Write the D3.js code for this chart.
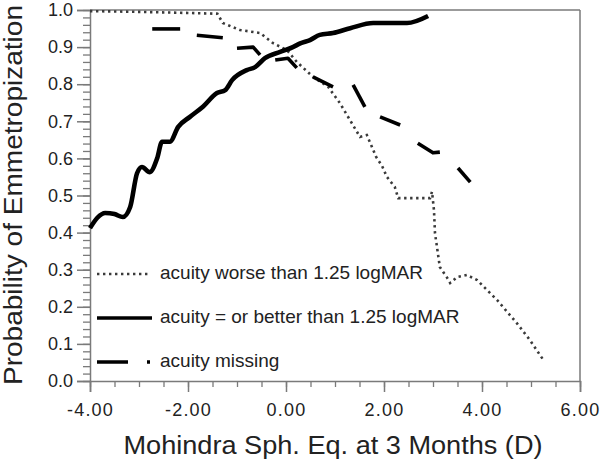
<!DOCTYPE html>
<html><head><meta charset="utf-8">
<script src="https://cdn.jsdelivr.net/npm/d3@7"></script>
<style>
html,body{margin:0;padding:0;background:#fff;}
svg{display:block;font-family:"Liberation Sans",Arial,sans-serif;}
</style></head>
<body>
<svg id="chart" width="600" height="463"></svg>
<script>
// ---- data ----
const xTicks = [-4, -2, 0, 2, 4, 6];
const yTicks = [0, 0.1, 0.2, 0.3, 0.4, 0.5, 0.6, 0.7, 0.8, 0.9, 1.0];
const seriesNames = ["acuity worse than 1.25 logMAR", "acuity = or better than 1.25 logMAR", "acuity missing"];

const worseX = [-4.0,-3.0,-2.0,-1.4,-1.29,-0.94,-0.53,-0.27,0.02,0.22,0.55,0.86,1.1,1.51,1.65,1.84,1.96,2.06,2.22,2.29,2.94,2.98,3.02,3.04,3.14,3.29,3.35,3.49,3.69,3.9,4.31,4.71,4.98,5.24];
const worseY = [0.997,0.995,0.992,0.99,0.965,0.946,0.938,0.911,0.892,0.86,0.82,0.793,0.749,0.658,0.663,0.604,0.58,0.55,0.523,0.493,0.493,0.51,0.46,0.399,0.307,0.278,0.264,0.28,0.286,0.272,0.218,0.156,0.11,0.059];

const betterX = [-4.0,-3.85,-3.69,-3.5,-3.33,-3.18,-3.04,-2.94,-2.78,-2.63,-2.53,-2.37,-2.2,-1.96,-1.69,-1.41,-1.24,-1.1,-0.8,-0.63,-0.43,-0.12,0.14,0.29,0.49,0.69,0.96,1.31,1.78,2.47,2.9];
const betterY = [0.412,0.44,0.453,0.45,0.442,0.469,0.56,0.577,0.563,0.60,0.645,0.645,0.685,0.712,0.74,0.776,0.784,0.811,0.838,0.846,0.87,0.887,0.9,0.91,0.919,0.933,0.938,0.951,0.965,0.965,0.984];

// the "missing" curve is drawn as a long-dash line; each dash is one piece
const missingX = [-2.73,-2.16,-1.82,-1.29,-1.0,-0.67,-0.53,-0.22,0.04,0.22,0.55,0.96,1.37,1.61,1.92,2.33,2.69,3.0,3.14,3.51,3.76];
const missingY = [0.949,0.949,0.932,0.925,0.897,0.9,0.879,0.865,0.87,0.844,0.82,0.793,0.798,0.739,0.712,0.69,0.641,0.615,0.617,0.574,0.536];
const missingDash = [0,0,1,1,2,2,2,3,3,3,4,4,5,5,6,6,7,7,7,8,8];

// ---- layout ----
const L = 90, R = 580, T = 10, B = 381;
const svg = d3.select("#chart");
const x = d3.scaleLinear().domain([-4, 6]).range([L, R]);
const y = d3.scaleLinear().domain([0, 1]).range([B, T]);
const axisColor = "#7a7a7a";
const textColor = "#222";

// frame (top & right)
svg.append("line").attr("x1", L).attr("x2", R).attr("y1", T).attr("y2", T).attr("stroke", axisColor).attr("stroke-width", 1.5);
svg.append("line").attr("x1", R).attr("x2", R).attr("y1", T).attr("y2", B).attr("stroke", axisColor).attr("stroke-width", 1.5);

// minor ticks
const yMinor = d3.range(0, 51).map(i => i * 0.02);
const xMinor = d3.range(0, 21).map(i => -4 + i * 0.5);
svg.append("g").attr("transform", `translate(${L},0)`)
  .call(d3.axisLeft(y).tickValues(yMinor).tickSize(7).tickFormat(""))
  .call(g => { g.select(".domain").remove(); g.selectAll("line").attr("stroke", axisColor).attr("stroke-width", 1.3); });
svg.append("g").attr("transform", `translate(0,${B})`)
  .call(d3.axisBottom(x).tickValues(xMinor).tickSize(6).tickFormat(""))
  .call(g => { g.select(".domain").remove(); g.selectAll("line").attr("stroke", axisColor).attr("stroke-width", 1.3); });

// major axes
const yAxis = svg.append("g").attr("transform", `translate(${L},0)`)
  .call(d3.axisLeft(y).tickValues(yTicks).tickSize(13).tickPadding(4).tickFormat(d => d.toFixed(1)));
yAxis.select(".domain").attr("stroke", axisColor).attr("stroke-width", 1.5);
yAxis.selectAll("line").attr("stroke", axisColor).attr("stroke-width", 1.5);
yAxis.selectAll("text").attr("fill", textColor).style("font-size", "18px").style("font-family", "'Liberation Sans',Arial,sans-serif");

const xAxis = svg.append("g").attr("transform", `translate(0,${B})`)
  .call(d3.axisBottom(x).tickValues(xTicks).tickSize(11).tickPadding(11).tickFormat(d => d.toFixed(2)));
xAxis.select(".domain").attr("stroke", axisColor).attr("stroke-width", 1.5);
xAxis.selectAll("line").attr("stroke", axisColor).attr("stroke-width", 1.5);
xAxis.selectAll("text").attr("fill", textColor).style("font-size", "18px").style("letter-spacing", "1.2px").style("font-family", "'Liberation Sans',Arial,sans-serif");

// axis titles
svg.append("text").attr("x", 333).attr("y", 454).attr("text-anchor", "middle")
  .attr("fill", textColor).style("font-size", "25px")
  .attr("textLength", 419).attr("lengthAdjust", "spacingAndGlyphs")
  .text("Mohindra Sph. Eq. at 3 Months (D)");
svg.append("text").attr("transform", "translate(22,195) rotate(-90)").attr("text-anchor", "middle")
  .attr("fill", textColor).style("font-size", "25px")
  .attr("textLength", 380).attr("lengthAdjust", "spacingAndGlyphs")
  .text("Probability of Emmetropization");

// lines
const toPts = (xs, ys) => xs.map((v, i) => [v, ys[i]]);
const line = d3.line().x(d => x(d[0])).y(d => y(d[1]));
const smooth = d3.line().x(d => x(d[0])).y(d => y(d[1])).curve(d3.curveMonotoneX);

svg.append("path").datum(toPts(worseX, worseY)).attr("d", line)
  .attr("fill", "none").attr("stroke", "#3a3a3a").attr("stroke-width", 2.6).attr("stroke-dasharray", "2.4,3.6");

const missingPts = toPts(missingX, missingY);
const dashes = d3.groups(missingPts.map((p, i) => ({p, g: missingDash[i]})), d => d.g).map(([, v]) => v.map(o => o.p));
svg.append("g").selectAll("path").data(dashes).join("path").attr("d", line)
  .attr("fill", "none").attr("stroke", "#000").attr("stroke-width", 3.6).attr("stroke-linejoin", "round");

svg.append("path").datum(toPts(betterX, betterY)).attr("d", smooth)
  .attr("fill", "none").attr("stroke", "#000").attr("stroke-width", 4.6).attr("stroke-linejoin", "round");

// legend
const legY = [274, 318, 362];
const leg = svg.append("g");
leg.append("line").attr("x1", 97).attr("x2", 149).attr("y1", legY[0]).attr("y2", legY[0])
  .attr("stroke", "#3a3a3a").attr("stroke-width", 2.6).attr("stroke-dasharray", "2.4,3.6");
leg.append("line").attr("x1", 97).attr("x2", 152).attr("y1", legY[1]).attr("y2", legY[1])
  .attr("stroke", "#000").attr("stroke-width", 3.6);
leg.append("line").attr("x1", 97).attr("x2", 152).attr("y1", legY[2]).attr("y2", legY[2])
  .attr("stroke", "#000").attr("stroke-width", 3.6).attr("stroke-dasharray", "31,19,3,50");
seriesNames.forEach((s, i) => {
  leg.append("text").attr("x", 160).attr("y", legY[i] + 4.5).attr("fill", textColor)
    .style("font-size", "19px").text(s);
});
</script>
</body></html>
